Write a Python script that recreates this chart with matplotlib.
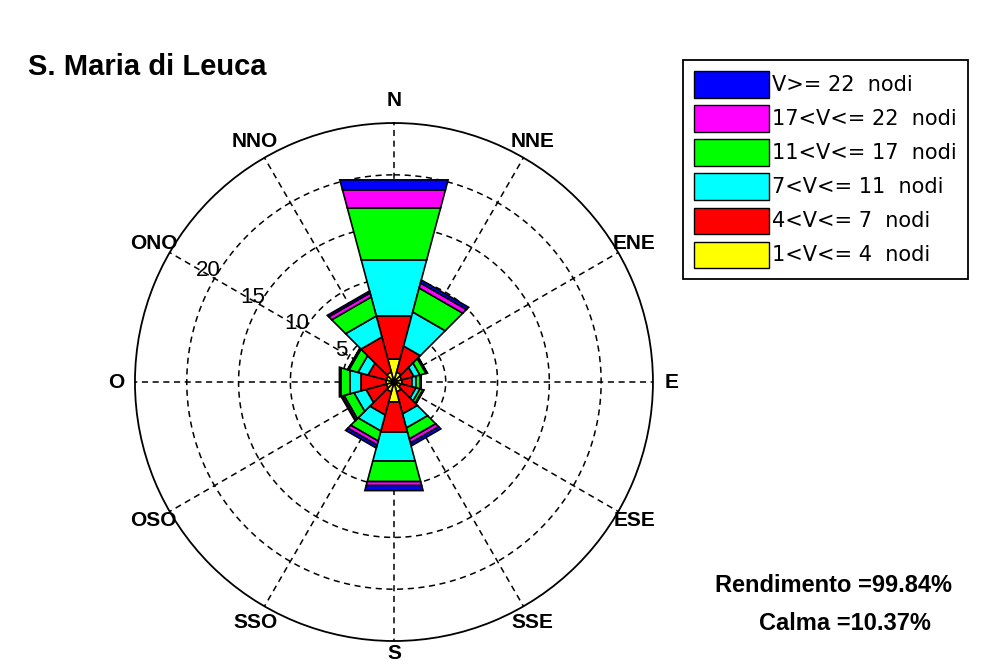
import numpy as np
import matplotlib
matplotlib.use('Agg')
import matplotlib.pyplot as plt
from matplotlib.patches import Patch

plt.rcParams['font.family'] = ['Liberation Sans', 'DejaVu Sans']

directions = ['N', 'NNE', 'ENE', 'E', 'ESE', 'SSE', 'S', 'SSO', 'OSO', 'O', 'ONO', 'NNO']
angles_deg = [0, 30, 60, 90, 120, 150, 180, 210, 240, 270, 300, 330]

# frequency (%) of each speed class, one value per direction
v1_4 = [2.3, 1.0, 0.8, 0.8, 0.7, 1.0, 2.0, 1.0, 0.8, 0.8, 0.8, 1.0]
v4_7 = [4.3, 2.6, 1.2, 1.0, 1.5, 2.2, 3.0, 2.3, 2.0, 2.5, 1.8, 3.5]
v7_11 = [5.6, 3.4, 0.6, 0.4, 0.4, 1.4, 2.9, 1.6, 1.2, 1.1, 1.0, 2.1]
v11_17 = [5.2, 2.4, 0.6, 0.4, 0.3, 1.1, 2.05, 1.0, 1.0, 0.9, 0.9, 1.9]
v17_22 = [1.8, 0.5, 0.1, 0.05, 0.05, 0.4, 0.4, 0.4, 0.2, 0.1, 0.1, 0.4]
v22 = [1.0, 0.3, 0.05, 0.05, 0.05, 0.3, 0.5, 0.3, 0.1, 0.05, 0.05, 0.2]

classes = [v1_4, v4_7, v7_11, v11_17, v17_22, v22]
labels = ['1<V<= 4  nodi', '4<V<= 7  nodi', '7<V<= 11  nodi',
          '11<V<= 17  nodi', '17<V<= 22  nodi', 'V>= 22  nodi']
colors = ['#ffff00', '#ff0000', '#00ffff', '#00ff00', '#ff00ff', '#0000ff']

rings = [5, 10, 15, 20]
rmax = 25
half = np.deg2rad(15)

fig = plt.figure(figsize=(9.99, 6.66), dpi=100)
ax = fig.add_axes([0.1351, 0.0375, 0.5185, 0.7778], projection='polar')
ax.set_theta_zero_location('N')
ax.set_theta_direction(-1)
ax.set_ylim(0, rmax)
ax.grid(False)
ax.set_xticks([])
ax.set_yticks([])
ax.spines['polar'].set_linewidth(1.3)
ax.spines['polar'].set_color('k')

# dashed rings and spokes
th = np.linspace(0, 2 * np.pi, 400)
for r in rings:
    ax.plot(th, np.full_like(th, r), color='k', lw=1.1, ls=(0, (4, 3)), zorder=1)
for a in angles_deg:
    t = np.deg2rad(a)
    ax.plot([t, t], [0, rmax], color='k', lw=1.1, ls=(0, (4, 3)), zorder=1)

# stacked sectors
for i, a in enumerate(angles_deg):
    t = np.deg2rad(a)
    base = 0.0
    for vals, c in zip(classes, colors):
        top = base + vals[i]
        ax.fill([t - half, t + half, t + half, t - half],
                [base, base, top, top],
                facecolor=c, edgecolor='k', lw=1.2, zorder=2)
        base = top

label_r = {'N': 27.2, 'S': 26.2}
for name, a in zip(directions, angles_deg):
    ax.text(np.deg2rad(a), label_r.get(name, 26.8), name, ha='center', va='center',
            fontsize=15, fontweight='bold')

for r in rings:
    ax.text(np.deg2rad(301), r + 0.9, str(r), ha='center', va='center', fontsize=16)

fig.text(0.028, 0.888, 'S. Maria di Leuca', fontsize=21, fontweight='bold',
         ha='left', va='baseline')
fig.text(0.834, 0.111, 'Rendimento =99.84%', fontsize=17, fontweight='bold',
         ha='center', va='baseline')
fig.text(0.846, 0.054, 'Calma =10.37%', fontsize=17, fontweight='bold',
         ha='center', va='baseline')

handles = [Patch(facecolor=c, edgecolor='k', lw=1) for c in colors[::-1]]
leg = fig.legend(handles, labels[::-1], loc='upper left',
                 bbox_to_anchor=(0.6837, 0.9099), frameon=True, fancybox=False,
                 edgecolor='k', framealpha=1,
                 prop={'family': 'DejaVu Sans', 'size': 15},
                 handlelength=3.6, handleheight=1.55, labelspacing=0.38,
                 handletextpad=0.12, borderpad=0.55, borderaxespad=0)
leg.get_frame().set_linewidth(1.3)

fig.savefig('out.png', dpi=100)
